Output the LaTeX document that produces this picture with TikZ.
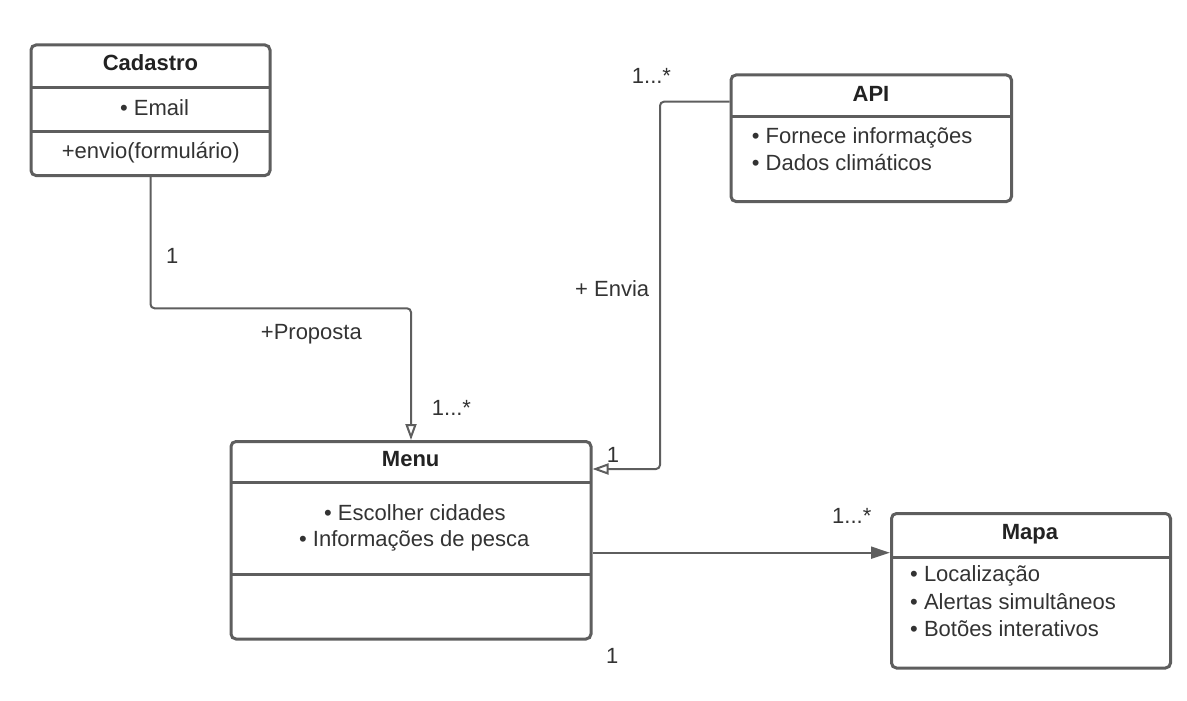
\documentclass[tikz,border=0pt]{standalone}
\usepackage{fontspec}
\setmainfont{Liberation Sans}
\usetikzlibrary{arrows.meta,calc}
\definecolor{linegray}{HTML}{5E5E5E}
\definecolor{txt}{HTML}{333333}
\definecolor{ttl}{HTML}{222222}
\begin{document}
\begin{tikzpicture}[x=1pt,y=-1pt,
  box/.style={draw=linegray,line width=3pt,rounded corners=5pt,inner sep=0pt,outer sep=0pt,anchor=north west,fill=white},
  divider/.style={draw=linegray,line width=3pt},
  title/.style={anchor=base,inner sep=0pt,text=ttl,font=\fontsize{22}{26}\selectfont\bfseries},
  item/.style={anchor=base west,inner sep=0pt,text=txt,font=\fontsize{22}{26}\selectfont},
  lbl/.style={anchor=base west,inner sep=0pt,text=txt,font=\fontsize{22}{26}\selectfont},
  conn/.style={draw=linegray,line width=2pt,rounded corners=4pt},
  opentip/.style={-{Triangle[open,length=16pt,width=11pt,line width=2pt]}},
  filltip/.style={-{Triangle[length=19pt,width=12pt]}}
]
\useasboundingbox (0,0) rectangle (1187,701);

% boxes (anchor at line centre)
\node[box,minimum width=239pt,minimum height=130.5pt] (cad) at (31,45) {};
\node[box,minimum width=280.5pt,minimum height=126.5pt] (api) at (731,75) {};
\node[box,minimum width=360pt,minimum height=197.5pt] (menu) at (231,441.5) {};
\node[box,minimum width=279pt,minimum height=154.5pt] (mapa) at (891.5,513.5) {};

% dividers
\draw[divider] (cad.west |- 0,88) -- (cad.east |- 0,88);
\draw[divider] (cad.west |- 0,131.5) -- (cad.east |- 0,131.5);
\draw[divider] (api.west |- 0,116.7) -- (api.east |- 0,116.7);
\draw[divider] (menu.west |- 0,482.7) -- (menu.east |- 0,482.7);
\draw[divider] (menu.west |- 0,574) -- (menu.east |- 0,574);
\draw[divider] (mapa.west |- 0,557.3) -- (mapa.east |- 0,557.3);

% titles
\node[title] (tcad) at (150.5,71) {Cadastro};
\node[title] (tapi) at (871,101.7) {API};
\node[title] (tmenu) at (410.7,466.7) {Menu};
\node[title] (tmapa) at (1030,539.3) {Mapa};

% items
\node[item] (i1) at (120,115) {• Email};
\node[item] (i2) at (61.7,158.3) {+envio(formulário)};
\node[item] (i3) at (751.7,143.3) {• Fornece informações};
\node[item] (i4) at (751.7,170) {• Dados climáticos};
\node[item] (i5) at (324,520) {• Escolher cidades};
\node[item] (i6) at (299,546.7) {• Informações de pesca};
\node[item] (i7) at (910,581.7) {• Localização};
\node[item] (i8) at (910,609.3) {• Alertas simultâneos};
\node[item] (i9) at (910,636) {• Botões interativos};

% connectors
\coordinate (bendA) at (0,308.3);
\draw[conn,opentip] ($(cad.south)+(0,1.5)$) -- (cad.south |- bendA) -| ($(menu.north)+(0,-1.5)$);
\coordinate (bendB) at (660,469);
\draw[conn,opentip] ($(api.west |- 0,101.7)+(-1.5,0)$) -| (bendB) -- ($(menu.east |- bendB)+(1.5,0)$);
\coordinate (rowC) at (0,552.7);
\draw[conn,filltip] ($(menu.east |- rowC)+(1.5,0)$) -- ($(mapa.west |- rowC)+(-1.5,0)$);

% labels
\node[lbl] (l1) at (166,263.3) {1};
\node[lbl] (l2) at (260.7,339.3) {+Proposta};
\node[lbl] (l3) at (431.7,415) {1...*};
\node[lbl] (l4) at (631.7,83.3) {1...*};
\node[lbl] (l5) at (575,296) {+ Envia};
\node[lbl] (l6) at (606.7,462.7) {1};
\node[lbl] (l7) at (832,523.3) {1...*};
\node[lbl] (l8) at (606,663) {1};
\end{tikzpicture}
\end{document}
